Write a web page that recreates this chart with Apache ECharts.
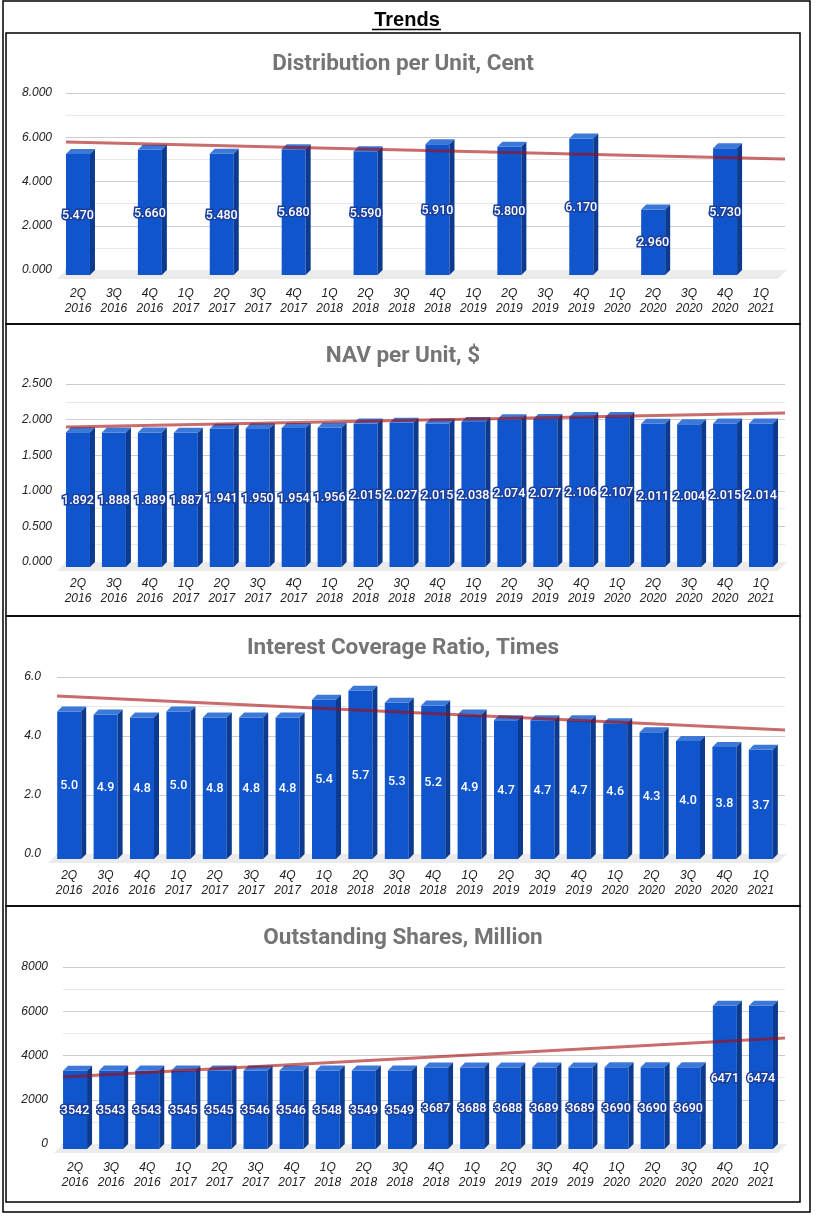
<!DOCTYPE html>
<html>
<head>
<meta charset="utf-8">
<script src="https://cdn.jsdelivr.net/npm/echarts@6/dist/echarts.min.js"></script>
<style>
html,body{margin:0;padding:0;background:#fff;}
#chart{width:817px;height:1221px;}
</style>
</head>
<body>
<div id="chart"></div>
<script>
// ---------- DATA ----------
const categories = [
  '2Q\n2016','3Q\n2016','4Q\n2016',
  '1Q\n2017','2Q\n2017','3Q\n2017','4Q\n2017',
  '1Q\n2018','2Q\n2018','3Q\n2018','4Q\n2018',
  '1Q\n2019','2Q\n2019','3Q\n2019','4Q\n2019',
  '1Q\n2020','2Q\n2020','3Q\n2020','4Q\n2020',
  '1Q\n2021'
];
const distribution = [5.470,null,5.660,null,5.480,null,5.680,null,5.590,null,5.910,null,5.800,null,6.170,null,2.960,null,5.730,null];
const nav = [1.892,1.888,1.889,1.887,1.941,1.950,1.954,1.956,2.015,2.027,2.015,2.038,2.074,2.077,2.106,2.107,2.011,2.004,2.015,2.014];
const interestCoverage = [5.0,4.9,4.8,5.0,4.8,4.8,4.8,5.4,5.7,5.3,5.2,4.9,4.7,4.7,4.7,4.6,4.3,4.0,3.8,3.7];
const shares = [3542,3543,3543,3545,3545,3546,3546,3548,3549,3549,3687,3688,3688,3689,3689,3690,3690,3690,6471,6474];

// trend line values at left and right ends
const distributionTrend = [5.785, 5.02];
const navTrend = [1.896, 2.093];
const interestTrend = [5.36, 4.20];
const sharesTrend = [3028, 4791];

const titles = ['Distribution per Unit, Cent','NAV per Unit, $','Interest Coverage Ratio, Times','Outstanding Shares, Million'];
const yTicks = [
  {min:0, max:8, interval:2, dec:3},
  {min:0, max:2.5, interval:0.5, dec:3},
  {min:0, max:6, interval:2, dec:1},
  {min:0, max:8000, interval:2000, dec:0}
];

// ---------- LAYOUT ----------
const panels = [
  {left:66, top:93,  width:719, height:177, ylm:14, xlm:16, title:53,  outline:true},
  {left:66, top:384, width:719, height:178, ylm:14, xlm:14, title:345, outline:true},
  {left:57, top:677, width:728, height:177, ylm:16, xlm:14, title:637, outline:false},
  {left:63, top:967, width:722, height:177, ylm:15, xlm:16, title:927, outline:true}
];
const seriesData = [distribution, nav, interestCoverage, shares];
const trends = [distributionTrend, navTrend, interestTrend, sharesTrend];

const FRONT = '#1155cc', TOPC = '#3c78d8', SIDE = '#0c3a8e';

function makeRender(dec, outline) {
  return function (params, api) {
    const cs = params.coordSys;
    const children = [];
    if (params.dataIndex === 0) {
      const y0 = api.coord([0, 0])[1];
      children.push({
        type: 'polygon',
        shape: { points: [[cs.x, y0], [cs.x + cs.width + 2, y0], [cs.x + cs.width - 7, y0 + 9], [cs.x - 9, y0 + 9]] },
        style: { fill: '#ebebeb' },
        z2: 0
      });
    }
    const v = api.value(1);
    if (v !== null && v !== undefined && !isNaN(v)) {
      const topPt = api.coord([api.value(0), v]);
      const base = api.coord([api.value(0), 0]);
      const w = 24, d = 5;
      const bx = topPt[0] - 1 - w / 2;
      const fx = bx - d;
      const fy = topPt[1] + d;
      const fb = base[1] + d;
      children.push({ type: 'rect', shape: { x: fx, y: fy, width: w, height: fb - fy }, style: { fill: FRONT } });
      children.push({ type: 'polygon', shape: { points: [[fx, fy], [fx + w, fy], [bx + w, topPt[1]], [bx, topPt[1]]] }, style: { fill: TOPC } });
      children.push({ type: 'polygon', shape: { points: [[fx + w, fy], [bx + w, topPt[1]], [bx + w, base[1]], [fx + w, fb]] }, style: { fill: SIDE } });
      const txtStyle = {
        text: v.toFixed(dec),
        fill: '#ffffff',
        align: 'center',
        verticalAlign: 'middle',
        fontSize: 12.5,
        fontFamily: 'Roboto',
        fontWeight: 500
      };
      if (outline) { txtStyle.stroke = '#1a3f9c'; txtStyle.lineWidth = 3; }
      children.push({ type: 'text', x: fx + w / 2, y: (fy + fb) / 2 + 1, style: txtStyle, z2: 10 });
    }
    return { type: 'group', children: children };
  };
}

const option = {
  animation: false,
  backgroundColor: '#fff',
  title: [],
  grid: [],
  xAxis: [],
  yAxis: [],
  series: [],
  graphic: [
    { type: 'rect', shape: { x: 3, y: 1, width: 807, height: 1211 }, style: { fill: 'none', stroke: '#000', lineWidth: 1.5 } },
    { type: 'rect', shape: { x: 6, y: 33, width: 794, height: 291 }, style: { fill: 'none', stroke: '#000', lineWidth: 1.5 } },
    { type: 'rect', shape: { x: 6, y: 324, width: 794, height: 292 }, style: { fill: 'none', stroke: '#000', lineWidth: 1.5 } },
    { type: 'rect', shape: { x: 6, y: 616, width: 794, height: 290 }, style: { fill: 'none', stroke: '#000', lineWidth: 1.5 } },
    { type: 'rect', shape: { x: 6, y: 906, width: 794, height: 296 }, style: { fill: 'none', stroke: '#000', lineWidth: 1.5 } },
    { type: 'text', x: 407, y: 20, style: { text: 'Trends', fill: '#000', font: 'bold 20px "Liberation Sans"', textAlign: 'center', textVerticalAlign: 'middle' } },
    { type: 'line', shape: { x1: 372, y1: 29.5, x2: 441, y2: 29.5 }, style: { stroke: '#000', lineWidth: 1.5 } }
  ]
};

panels.forEach(function (p, i) {
  const t = yTicks[i];
  option.title.push({
    text: titles[i], left: 403, top: p.title, textAlign: 'center', padding: 0,
    textStyle: { fontFamily: 'Roboto', fontWeight: 'bold', fontSize: 22.5, color: '#757575' }
  });
  option.grid.push({ left: p.left, top: p.top, width: p.width, height: p.height, containLabel: false });
  option.xAxis.push({
    type: 'category', gridIndex: i, data: categories, boundaryGap: true,
    axisLine: { show: true, lineStyle: { color: '#333', width: 1 } },
    axisTick: { show: false },
    axisLabel: {
      interval: 0, margin: p.xlm, fontSize: 12, fontStyle: 'italic', fontFamily: 'Liberation Sans',
      color: '#222', lineHeight: 15, padding: [0, 12, 0, 0]
    },
    splitLine: { show: false }
  });
  const shift = 9 / p.width;
  option.xAxis.push({ type: 'value', gridIndex: i, min: -shift, max: 1, show: false });
  option.yAxis.push({
    type: 'value', gridIndex: i, min: t.min, max: t.max, interval: t.interval,
    axisLine: { show: false }, axisTick: { show: false },
    axisLabel: {
      margin: p.ylm, fontSize: 12, fontStyle: 'italic', fontFamily: 'Liberation Sans', color: '#222',
      formatter: function (val) { return val.toFixed(t.dec); }
    },
    splitLine: { show: true, lineStyle: { color: '#cccccc', width: 1 } },
    minorTick: { show: false, splitNumber: 2 },
    minorSplitLine: { show: true, lineStyle: { color: '#e8e8e8', width: 1 } }
  });
  option.series.push({
    type: 'custom', xAxisIndex: i * 2, yAxisIndex: i, z: 2,
    renderItem: makeRender(t.dec, p.outline),
    data: seriesData[i].map(function (v, k) { return [k, v]; }),
    encode: { x: 0, y: 1 }
  });
  option.series.push({
    type: 'line', xAxisIndex: i * 2 + 1, yAxisIndex: i, z: 5, symbol: 'none', silent: true,
    lineStyle: { color: '#a50a0a', width: 3, opacity: 0.6 },
    data: [[-shift, trends[i][0]], [1, trends[i][1]]]
  });
});

const chart = echarts.init(document.getElementById('chart'), null, { renderer: 'canvas' });
chart.setOption(option);
</script>
</body>
</html>
